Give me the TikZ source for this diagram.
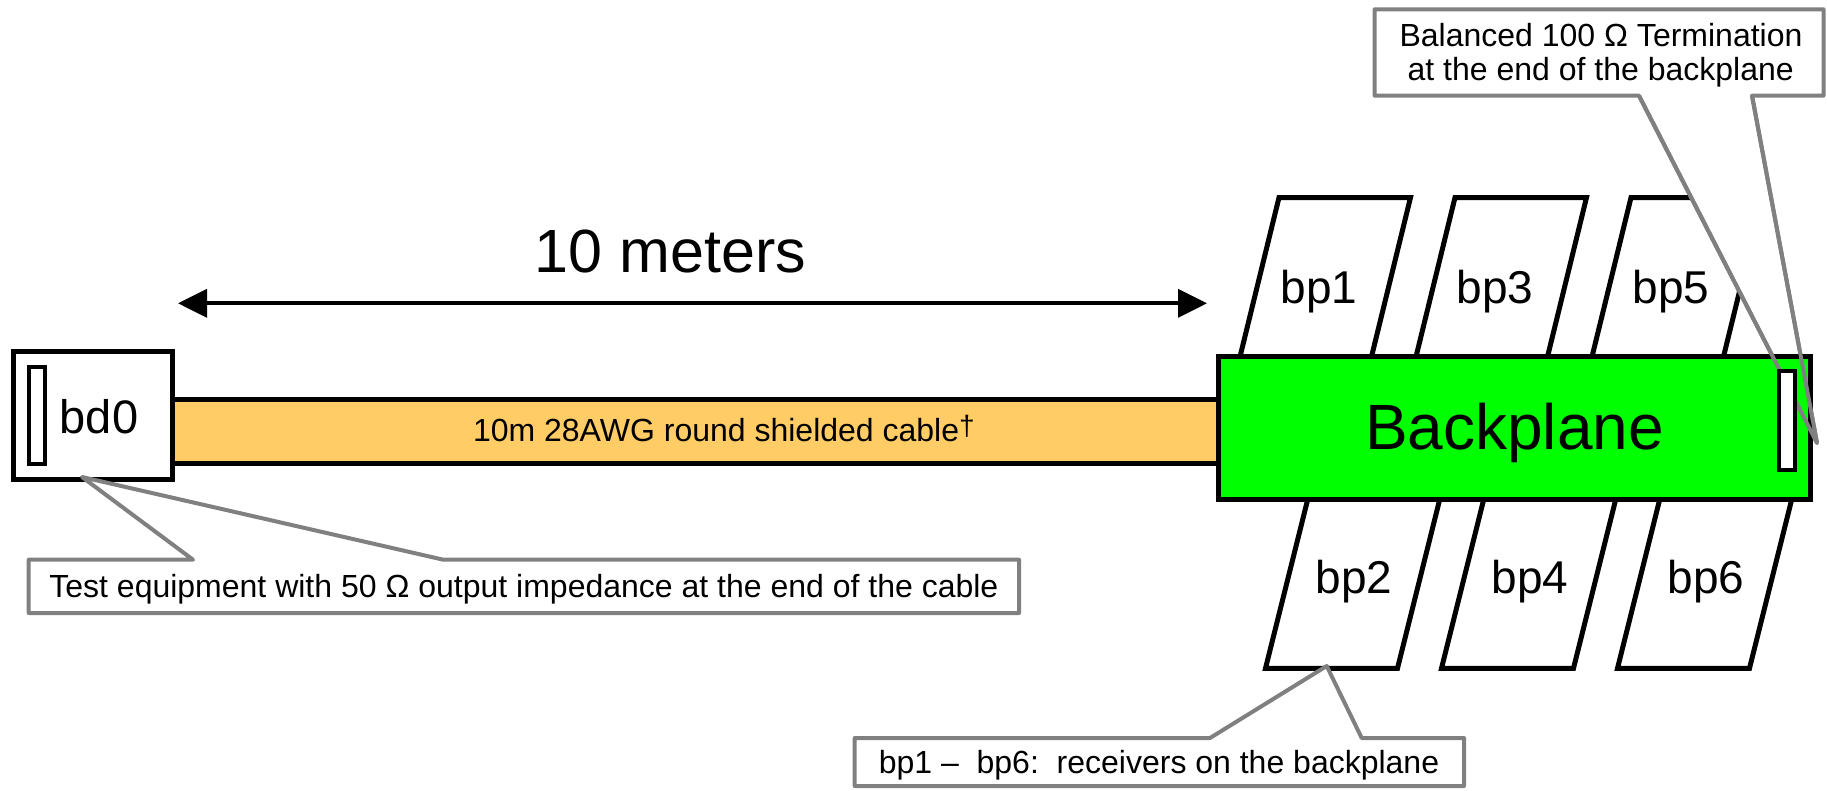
\documentclass[tikz,border=0pt]{standalone}
\usepackage{fontspec}
\setmainfont{Liberation Sans}
\usetikzlibrary{arrows.meta}
\definecolor{cablefill}{HTML}{FFCC66}
\definecolor{bpgreen}{HTML}{00FF00}
\definecolor{callgray}{HTML}{808080}
\tikzset{
  blk/.style={draw=black, line width=5pt},
  thinbox/.style={draw=black, line width=4pt, fill=white},
  callout/.style={draw=callgray, line width=4pt, fill=white, line join=round},
  calltxt/.style={inner sep=0pt, outer sep=0pt, font=\fontsize{32}{38}\selectfont, anchor=base},
  bplabel/.style={inner sep=0pt, outer sep=0pt, font=\fontsize{46}{50}\selectfont, anchor=base},
  dimarrow/.style={line width=4pt, {Triangle[length=29pt,width=28pt]}-{Triangle[length=29pt,width=28pt]}},
}
\begin{document}
\begin{tikzpicture}[x=1pt,y=-1pt]
\useasboundingbox (0,0) rectangle (1827,790);

% cable
\draw[blk, fill=cablefill] (172.5,399.5) rectangle (1218.5,463.5);
\node[calltxt, anchor=base west] (cabletxt) at (473,441.7) {10m 28AWG round shielded cable\raisebox{6pt}{\fontsize{28}{30}\selectfont †}};

% bd0 box
\draw[blk, fill=white] (13.5,351.5) rectangle (172.5,479.5);
\draw[thinbox] (28.7,367) rectangle (45.3,464);
\node[inner sep=0pt, font=\fontsize{47}{50}\selectfont, anchor=base] (bd0) at (99,433) {bd0};

% receivers
\foreach \k/\t/\b in {0/1/2,1/3/4,2/5/6}{
  \draw[blk, fill=white] (1279+176*\k,197.5) -- (1410.5+176*\k,197.5) -- ++(-54.5,222.5) -- ++(-131.5,0) -- cycle;
  \node[bplabel] (bp\t) at (1319+176*\k,303) {bp\t};
  \draw[blk, fill=white] (1265.5+176*\k,668.3) -- (1397.5+176*\k,668.3) -- ++(59.5,-238) -- ++(-132,0) -- cycle;
  \node[bplabel] (bp\b) at (1354+176*\k,593) {bp\b};
}

% callout 2 (termination)
\coordinate (c2a) at (1639,95.7);
\coordinate (c2b) at (1752,95.7);
\coordinate (c2tip) at (1817,443);
\draw[callout] (1374.7,9.3) -- (1823.5,9.3) -- (1823.5,95.7) -- (c2b) -- (c2tip) -- (c2a) -- (1374.7,95.7) -- cycle;
\node[calltxt] (term1) at (1601,46.7) {Balanced 100 Ω Termination};
\node[calltxt] (term2) at (1600.7,80) {at the end of the backplane};

% backplane
\draw[blk, fill=bpgreen] (1218.5,356.5) rectangle (1810.5,499);
\node[inner sep=0pt, font=\fontsize{64}{70}\selectfont, anchor=base] (bp) at (1514.5,449.3) {Backplane};
\draw[draw=callgray, line width=4pt, line join=round] (c2a) -- (c2tip) -- (c2b);
\draw[thinbox] (1779,371.3) rectangle (1795,469.7);

% callout 1 (test equipment)
\coordinate (c1tip) at (82,477);
\draw[callout] (28.7,559.7) -- (193,559.7) -- (c1tip) -- (443.3,559.7) -- (1019,559.7) -- (1019,613) -- (28.7,613) -- cycle;
\node[calltxt] (testeq) at (523.9,597) {Test equipment with 50 Ω output impedance at the end of the cable};

% callout 3 (receivers)
\coordinate (c3tip) at (1326.7,666);
\draw[callout] (854.7,738) -- (1210,738) -- (c3tip) -- (1361.7,738) -- (1464,738) -- (1464,786) -- (854.7,786) -- cycle;
\node[calltxt] (rxnote) at (1159,773.3) {bp1 –\ \ bp6:\ \ receivers on the backplane};

% 10 meters
\coordinate (arrL) at (178,303.3);
\coordinate (arrR) at (1207,303.3);
\draw[dimarrow] (arrL) -- (arrR);
\node[inner sep=0pt, font=\fontsize{61}{66}\selectfont, anchor=base] (tenm) at (670.5,272) {10 meters};
\end{tikzpicture}
\end{document}
